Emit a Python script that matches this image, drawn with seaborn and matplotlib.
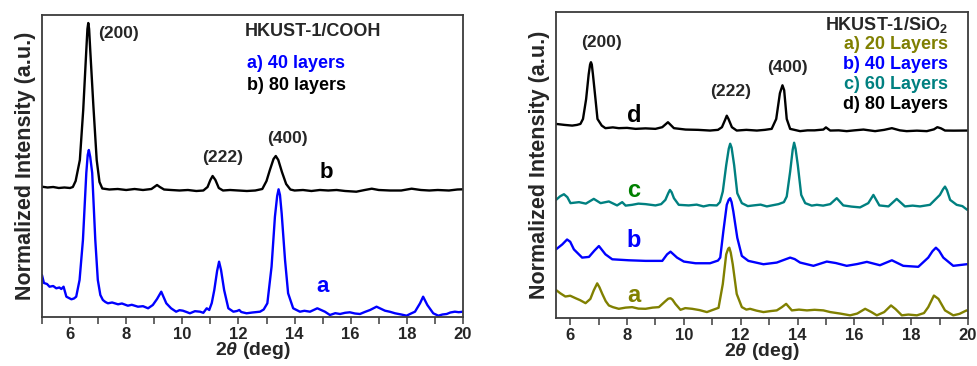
import matplotlib
matplotlib.use("Agg")
import matplotlib.pyplot as plt
from matplotlib.ticker import MultipleLocator
import pandas as pd
import seaborn as sns

# ---------------- HKUST-1/COOH ----------------
cooh_2theta_a = [5.0, 5.07, 5.18, 5.27, 5.4, 5.51, 5.62, 5.69, 5.77, 5.87, 5.96, 6.05, 6.14, 6.22,
                 6.34, 6.46, 6.58, 6.63, 6.67, 6.72, 6.79, 6.9, 6.99, 7.08, 7.17, 7.26, 7.35, 7.5,
                 7.71, 7.85, 8.06, 8.2, 8.42, 8.6, 8.78, 8.95, 9.1, 9.25, 9.43, 9.6, 9.78, 9.9,
                 10.02, 10.15, 10.27, 10.45, 10.63, 10.75, 10.87, 10.96, 11.05, 11.14, 11.24,
                 11.31, 11.38, 11.49, 11.64, 11.82, 11.95, 12.03, 12.1, 12.29, 12.5, 12.77, 12.9,
                 13.03, 13.18, 13.3, 13.38, 13.43, 13.48, 13.54, 13.66, 13.77, 13.95, 14.19, 14.35,
                 14.55, 14.81, 15.08, 15.26, 15.45, 15.62, 15.8, 15.97, 16.15, 16.33, 16.5, 16.69,
                 16.92, 17.22, 17.4, 17.58, 17.8, 17.99, 18.15, 18.29, 18.47, 18.58, 18.73, 18.94,
                 19.12, 19.27, 19.42, 19.55, 19.71, 19.85, 20.0]
cooh_int_a = [42, 34, 33, 30.3, 31, 28.7, 29.5, 28, 30.3, 20.3, 19, 17.7, 18.5, 20.3,
              37, 77, 144, 162, 167, 160, 144, 77, 37, 22, 17, 15, 13.7, 14.5,
              12.7, 13.5, 11.3, 12.2, 10.3, 10.8, 8.7, 12, 18, 25.3, 13.7, 8.7, 5.3, 6.8,
              6.3, 5, 3.7, 5.8, 5.3, 4.2, 8.7, 7, 14, 27, 46,
              55.3, 47, 27, 8.7, 5.3, 6, 7, 5, 3.7, 4.5, 5.3, 7.5,
              13.7, 50.3, 100.3, 121, 127.7, 122, 103.7, 57, 23.7, 8.7, 5.3, 6.2,
              5.3, 8.7, 5.3, 2, 3.8, 3, 4.2, 4.7, 3.5, 3, 5, 7,
              10.3, 6.3, 5.2, 3.7, 2.5, 1.3, 3.5, 5.3, 13.7, 20.3, 12, 3.7,
              1.3, 2.5, 3, 4.5, 5.3, 4.8, 5.3]

cooh_2theta_b = [5.0, 5.2, 5.4, 5.6, 5.8, 6.0, 6.1, 6.2, 6.35, 6.47, 6.58, 6.62, 6.65, 6.68,
                 6.72, 6.83, 6.95, 7.05, 7.15, 7.4, 7.7, 8.0, 8.3, 8.6, 8.9, 9.0, 9.1, 9.2,
                 9.35, 9.6, 9.9, 10.2, 10.5, 10.75, 10.9, 11.0, 11.08, 11.18, 11.3, 11.45, 11.7,
                 12.0, 12.3, 12.6, 12.85, 13.0, 13.12, 13.25, 13.33, 13.42, 13.55, 13.7, 13.85,
                 14.0, 14.3, 14.6, 14.9, 15.2, 15.5, 15.8, 16.2, 16.5, 16.75, 17.0, 17.4, 17.8,
                 18.17, 18.5, 18.8, 19.1, 19.5, 19.8, 20.0]
cooh_int_b = [10.3, 9.5, 10, 9, 9.5, 9, 10, 16, 37, 87, 147, 168, 174, 168,
              147, 92, 37, 15, 8.5, 7.5, 8, 7, 8, 7, 8, 10, 12, 10,
              7.5, 7, 6.5, 7, 6, 6.5, 10, 17, 21, 17, 9, 6.5, 7,
              6.5, 6, 6.5, 8, 16, 27, 38, 41, 37, 25, 13, 7.5,
              6.5, 7, 6, 7, 6.5, 7, 6, 5.3, 7, 8.3, 7, 6.5, 6.5,
              8.3, 7, 6.5, 7, 6.5, 7.5, 7.7]

cooh_peaks = ["(200)", "(222)", "(400)"]
cooh_peak_pos = [(7.71, 284), (11.45, 159), (13.73, 179)]
cooh_title = "HKUST-1/COOH"
cooh_legend = ["a) 40 layers", "b) 80 layers"]

# ---------------- HKUST-1/SiO2 ----------------
sio2_2theta_a = [5.5, 5.65, 5.83, 6.0, 6.19, 6.35, 6.54, 6.71, 6.83, 6.95, 7.03, 7.13, 7.25, 7.36,
                 7.5, 7.71, 7.95, 8.18, 8.4, 8.65, 8.9, 9.12, 9.35, 9.45, 9.53, 9.6, 9.7, 9.88,
                 10.05, 10.29, 10.55, 10.81, 11.0, 11.22, 11.37, 11.49, 11.56, 11.6, 11.65,
                 11.72, 11.86, 12.04, 12.2, 12.33, 12.55, 12.8, 13.05, 13.27, 13.45, 13.6, 13.8,
                 14.05, 14.33, 14.6, 14.91, 15.15, 15.5, 15.85, 16.1, 16.38, 16.6, 16.79, 17.05,
                 17.29, 17.45, 17.67, 17.9, 18.2, 18.45, 18.6, 18.8, 18.96, 19.19, 19.48, 19.7,
                 19.95, 20.0]
sio2_int_a = [28.3, 25, 21.7, 22.5, 20, 18, 15, 19.3, 28, 35, 31, 24.3, 17, 12.7,
              11, 9.3, 10.5, 11, 9.5, 9.3, 10.5, 11, 17, 19.5, 20, 18.5, 14.3, 8.3,
              10, 9.3, 8, 6, 8, 10.3, 34.3, 64.3, 70, 71, 66,
              54.3, 24.3, 11, 8.5, 9.3, 7.5, 6, 7, 7.7, 11, 14.3, 7.7,
              8.5, 7.7, 8.3, 7.7, 6, 4.5, 2.7, 4.5, 9.3, 6, 2.7, 6,
              12.7, 9, 2.7, 3.5, 2.7, 5, 11, 22.7, 19.3, 7.7, 2.7, 4.2,
              7.7, 7]

sio2_2theta_b = [5.5, 5.72, 5.89, 6.0, 6.13, 6.42, 6.66, 6.85, 7.01, 7.24, 7.48, 8.06, 8.65, 9.24,
                 9.41, 9.53, 9.76, 10.0, 10.41, 10.92, 11.2, 11.28, 11.39, 11.51, 11.58, 11.63,
                 11.68, 11.74, 11.88, 12.04, 12.27, 12.8, 13.27, 13.55, 13.74, 13.9, 14.09, 14.56,
                 15.03, 15.35, 15.73, 16.1, 16.44, 16.9, 17.32, 17.72, 18.25, 18.6, 18.75, 18.87,
                 18.98, 19.13, 19.48, 19.95, 20.0]
sio2_int_b = [19.3, 24.3, 29.3, 27, 19.3, 11, 11.7, 18, 22.7, 14.3, 9.3, 8.3, 7.7, 7.7,
              14.3, 17, 11, 7, 5.3, 5.3, 8, 11, 37.7, 64.3, 69.5, 71,
              67, 57.7, 31, 12.7, 7.7, 4.3, 6, 9, 11, 9.5, 6, 2.7,
              7, 5.5, 2.7, 4.5, 6.7, 3.3, 8.3, 2.7, 1.7, 11, 17.5, 21,
              18, 11, 2.7, 4.3, 4.3]

sio2_2theta_c = [5.5, 5.65, 5.78, 5.9, 6.01, 6.31, 6.55, 6.83, 7.07, 7.36, 7.65, 7.83, 7.95, 8.18,
                 8.4, 8.65, 9.0, 9.2, 9.35, 9.45, 9.51, 9.57, 9.65, 9.82, 10.17, 10.45, 10.69,
                 10.9, 11.16, 11.27, 11.37, 11.49, 11.58, 11.63, 11.68, 11.77, 11.88, 12.04, 12.25,
                 12.45, 12.7, 12.92, 13.15, 13.33, 13.52, 13.62, 13.74, 13.83, 13.88, 13.93, 14.01,
                 14.13, 14.27, 14.5, 14.68, 14.9, 15.15, 15.38, 15.61, 15.9, 16.2, 16.49, 16.67,
                 16.88, 17.2, 17.49, 17.78, 18.05, 18.31, 18.66, 19.01, 19.12, 19.19, 19.26, 19.37,
                 19.6, 19.8, 19.97, 20.0]
sio2_int_c = [14.3, 18, 20, 17, 11, 12, 10.5, 15.3, 11, 12.7, 8.7, 12, 8.5, 9.3,
              10.5, 10, 8.7, 10, 14.3, 21, 24.3, 22, 16, 9.3, 8.7, 9.5, 7.7,
              9, 8.7, 12, 22.7, 49.3, 66, 71, 67, 49.3, 21, 11, 8,
              8.7, 9.5, 7.7, 9, 10, 12, 17.7, 42.7, 65, 72, 66, 49.3,
              19.3, 11, 8.5, 9.3, 8.5, 10, 16, 8.7, 7.5, 6.7, 11, 19.3,
              8.7, 7.7, 15.3, 7.7, 8.5, 7.7, 9.3, 19.3, 25, 27.7, 24, 14.3,
              9.3, 8, 4.3, 5]

sio2_2theta_d = [5.5, 5.8, 6.07, 6.24, 6.36, 6.45, 6.56, 6.65, 6.7, 6.73, 6.76, 6.8, 6.89, 6.96,
                 7.11, 7.24, 7.5, 7.71, 8.0, 8.3, 8.65, 9.0, 9.24, 9.44, 9.65, 10.06, 10.5,
                 10.92, 11.2, 11.34, 11.45, 11.51, 11.57, 11.69, 11.86, 12.2, 12.57, 12.85, 13.09,
                 13.25, 13.38, 13.47, 13.53, 13.62, 13.74, 14.09, 14.35, 14.6, 14.91, 15.0, 15.15,
                 15.45, 15.73, 16.0, 16.32, 16.73, 17.05, 17.32, 17.6, 17.84, 18.2, 18.55, 18.8,
                 18.92, 19.05, 19.19, 19.5, 19.95, 20.0]
sio2_int_d = [11, 10, 9.3, 10, 11, 16, 36, 61, 71, 73.3, 71, 61, 36, 16,
              9.3, 6.7, 7.5, 6.7, 7, 6, 6.5, 6, 7.7, 12.7, 6.7, 5.3, 5,
              4.3, 5, 7.7, 15, 19.3, 16, 7.7, 4.3, 5, 4.3, 5, 6,
              16, 42, 50, 45, 16, 6, 3.7, 4.5, 4.5, 5.3, 7.5, 4.3,
              4.5, 3.7, 4.5, 5.3, 3.7, 5, 6.7, 4.5, 3.7, 4.2, 3.7, 5.5,
              7.7, 6.5, 4.3, 4.2, 4.3, 4.3]

sio2_peaks = ["(200)", "(222)", "(400)"]
sio2_peak_pos = [(7.09, 278), (11.63, 229), (13.63, 253)]
sio2_legend = ["a) 20 Layers", "b) 40 Layers", "c) 60 Layers", "d) 80 Layers"]

# ---------------- styling ----------------
sns.set_style("white")
plt.rcParams["font.family"] = ["Liberation Sans", "DejaVu Sans"]
plt.rcParams["font.weight"] = "bold"
plt.rcParams["mathtext.fontset"] = "custom"
plt.rcParams["mathtext.it"] = "Liberation Sans:italic:bold"
plt.rcParams["mathtext.rm"] = "Liberation Sans:bold"
plt.rcParams["mathtext.bf"] = "Liberation Sans:bold"

OLIVE, BLUE, TEAL, BLACK, GREEN = "#808000", "#0000FF", "#008080", "#000000", "#008000"
FRAME = "#3c3c3c"

fig = plt.figure(figsize=(9.78, 3.66), dpi=100)
ax1 = fig.add_axes([0.0429, 0.1339, 0.4305, 0.8251])
ax2 = fig.add_axes([0.5685, 0.1311, 0.4213, 0.8361])


def stack_frame(curves):
    rows = []
    for name, xs, ys, off in curves:
        for x, y in zip(xs, ys):
            rows.append({"two_theta": x, "intensity": y + off, "sample": name})
    return pd.DataFrame(rows)


def style_axes(ax, xlim, ylim, xlabel_pad):
    ax.set_xlim(*xlim)
    ax.set_ylim(*ylim)
    ax.xaxis.set_major_locator(MultipleLocator(2))
    ax.xaxis.set_minor_locator(MultipleLocator(1))
    ax.set_yticks([])
    ax.tick_params(axis="x", which="both", direction="out", bottom=True,
                   length=5, width=1.1, color=FRAME, labelsize=12, pad=2)
    for lab in ax.get_xticklabels():
        lab.set_fontweight("bold")
    for sp in ax.spines.values():
        sp.set_visible(True)
        sp.set_color(FRAME)
        sp.set_linewidth(1.3)
    ax.set_ylabel("Normalized Intensity (a.u.)", fontsize=15.5, fontweight="bold", labelpad=4)
    ax.set_xlabel(r"$\mathit{2\theta}$ (deg)", fontsize=14, fontweight="bold",
                  labelpad=xlabel_pad)


# left panel
df1 = stack_frame([
    ("a", cooh_2theta_a, cooh_int_a, 0),
    ("b", cooh_2theta_b, cooh_int_b, 120),
])
sns.lineplot(data=df1, x="two_theta", y="intensity", hue="sample", estimator=None,
             palette={"a": BLUE, "b": BLACK}, linewidth=1.7, legend=False, ax=ax1)
style_axes(ax1, (5, 20), (0, 302), -1)
for lab, (px, py) in zip(cooh_peaks, cooh_peak_pos):
    ax1.text(px, py, lab, ha="center", va="center", fontsize=12.5, fontweight="bold")
ax1.text(15.12, 144, "b", color=BLACK, ha="center", va="center", fontsize=16, fontweight="bold")
ax1.text(14.98, 30, "a", color=BLUE, ha="center", va="center", fontsize=16, fontweight="bold")
ax1.text(0.644, 0.947, cooh_title, transform=ax1.transAxes, ha="center", va="center",
         fontsize=13, fontweight="bold")
ax1.text(0.487, 0.841, cooh_legend[0], transform=ax1.transAxes, ha="left", va="center",
         fontsize=13, fontweight="bold", color=BLUE)
ax1.text(0.487, 0.768, cooh_legend[1], transform=ax1.transAxes, ha="left", va="center",
         fontsize=13, fontweight="bold", color=BLACK)

# right panel
df2 = stack_frame([
    ("a", sio2_2theta_a, sio2_int_a, 0),
    ("b", sio2_2theta_b, sio2_int_b, 50),
    ("c", sio2_2theta_c, sio2_int_c, 105),
    ("d", sio2_2theta_d, sio2_int_d, 185),
])
sns.lineplot(data=df2, x="two_theta", y="intensity", hue="sample", estimator=None,
             palette={"a": OLIVE, "b": BLUE, "c": TEAL, "d": BLACK}, linewidth=1.7,
             legend=False, ax=ax2)
style_axes(ax2, (5.5, 20), (0, 309), -1)
for lab, (px, py) in zip(sio2_peaks, sio2_peak_pos):
    ax2.text(px, py, lab, ha="center", va="center", fontsize=12.5, fontweight="bold")
for letter, yv, col in [("d", 204, BLACK), ("c", 129, GREEN), ("b", 78, BLUE), ("a", 23, OLIVE)]:
    ax2.text(8.25, yv, letter, color=col, ha="center", va="center", fontsize=17, fontweight="bold")
ax2.text(0.951, 0.958, r"HKUST-1/SiO$_\mathregular{2}$", transform=ax2.transAxes,
         ha="right", va="center", fontsize=13, fontweight="bold")
for txt, fy, col in zip(sio2_legend, [0.893, 0.828, 0.764, 0.699], [OLIVE, BLUE, TEAL, BLACK]):
    ax2.text(0.951, fy, txt, transform=ax2.transAxes, ha="right", va="center",
             fontsize=13, fontweight="bold", color=col)

fig.savefig("out.png", dpi=100)
